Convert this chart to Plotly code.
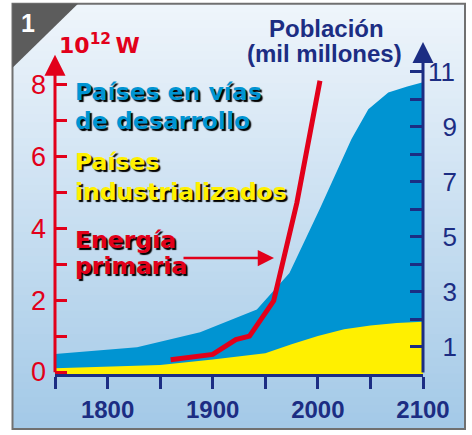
import plotly.graph_objects as go

# population in billions (right axis)
pop_years = [1750, 1828, 1888, 1942, 1973, 2002, 2032, 2048, 2067, 2085, 2100]
pop_world = [0.73, 0.97, 1.52, 2.35, 3.68, 6.03, 8.56, 9.64, 10.25, 10.47, 10.62]
ind_years = [1750, 1850, 1900, 1950, 1975, 2000, 2025, 2050, 2075, 2100]
pop_industrial = [0.21, 0.33, 0.53, 0.76, 1.08, 1.38, 1.63, 1.77, 1.86, 1.9]

# primary energy, 10^12 W (left axis)
energy_years = [1860, 1900, 1922, 1935, 1958, 1980, 2002]
energy = [0.34, 0.49, 0.9, 1.0, 1.98, 4.7, 8.1]

x_ticks = [1800, 1900, 2000, 2100]
x_minor = [1750, 1850, 1950, 2050]
energy_ticks = [0, 2, 4, 6, 8]
energy_minor = [1, 3, 5, 7]
pop_ticks = [1, 3, 5, 7, 9, 11]
pop_minor = [2, 4, 6, 8, 10]

NAVY = "#1c2d83"
RED = "#e2001a"
BLUE = "#0094d2"
YELLOW = "#fff000"
W, H = 472, 435
L, T, PW, PH = 55, 42, 368, 335


def px(x):
    return (x - L) / PW


def py(y):
    return (T + PH - y) / PH


fig = go.Figure()
fig.add_trace(go.Scatter(x=pop_years, y=pop_world, mode="lines", fill="tozeroy",
                         fillcolor=BLUE, line=dict(width=0, color=BLUE), yaxis="y"))
fig.add_trace(go.Scatter(x=ind_years, y=pop_industrial, mode="lines", fill="tozeroy",
                         fillcolor=YELLOW, line=dict(width=0, color=YELLOW), yaxis="y"))
fig.add_trace(go.Scatter(x=energy_years, y=energy, mode="lines",
                         line=dict(width=5, color=RED), yaxis="y2"))

# background gradient + frame
shapes = []
top_c, bot_c = (239, 245, 251), (163, 201, 231)
y0, y1 = 4, 432
n = 54
step = (y1 - y0) / n
for i in range(n):
    f = (i + 0.5) / n
    c = tuple(round(top_c[k] + (bot_c[k] - top_c[k]) * f) for k in range(3))
    shapes.append(dict(type="rect", xref="paper", yref="paper", layer="below",
                       x0=px(13), x1=px(465), y0=py(y0 + i * step), y1=py(y0 + (i + 1) * step + 1),
                       fillcolor="rgb(%d,%d,%d)" % c, line=dict(width=0)))
shapes.append(dict(type="rect", xref="paper", yref="paper", layer="below",
                   x0=px(12.5), x1=px(465), y0=py(3.5), y1=py(432.5),
                   line=dict(color="#707070", width=2)))
shapes.append(dict(type="path", xref="paper", yref="paper", layer="below",
                   path="M %f,%f L %f,%f L %f,%f Z" % (px(12.5), py(3.5), px(78), py(3.5), px(12.5), py(68)),
                   fillcolor="#5c5c5c", line=dict(width=0)))

big = dict(family="DejaVu Sans", size=23.5, weight="bold", shadow="2px 2px 1px #000")
ann = []


def label(text, x, yc, color):
    ann.append(dict(text=text, xref="paper", yref="paper", x=px(x), y=py(yc),
                    xanchor="left", yanchor="middle", showarrow=False,
                    font=dict(big, color=color)))


label("Países en vías", 73, 92.5, BLUE)
label("de desarrollo", 73, 122, BLUE)
label("Países", 73, 163.5, YELLOW)
label("industrializados", 73, 193.5, YELLOW)
label("Energía", 73, 242, RED)
label("primaria", 73, 268, RED)

title_font = dict(family="Liberation Sans", size=24, weight="bold", color=NAVY)
ann.append(dict(text="Población", xref="paper", yref="paper", x=px(326.5), y=py(28.3),
                xanchor="center", yanchor="middle", showarrow=False, font=title_font))
ann.append(dict(text="(mil millones)", xref="paper", yref="paper", x=px(324), y=py(53.6),
                xanchor="center", yanchor="middle", showarrow=False, font=title_font))
ann.append(dict(text="10<sup>12</sup>\u2009W", xref="paper", yref="paper", x=px(57), y=py(60),
                xanchor="left", yanchor="bottom", showarrow=False,
                font=dict(family="DejaVu Sans", size=22, weight="bold", color=RED)))
ann.append(dict(text="1", xref="paper", yref="paper", x=px(27.5), y=py(22.5),
                xanchor="center", yanchor="middle", showarrow=False,
                font=dict(family="Liberation Sans", size=25, weight="bold", color="white")))

# pointer arrow from "primaria" to the energy curve
ann.append(dict(text="", xref="paper", yref="paper", x=px(274), y=py(260),
                ax=-92, ay=0, showarrow=True, arrowhead=2, arrowsize=1.3,
                arrowwidth=2.5, arrowcolor=RED, standoff=0))

# axis arrows
ann.append(dict(text="", xref="x", yref="y2", x=1750, y=8.82, axref="x", ayref="y2",
                ax=1750, ay=-0.05, showarrow=True, arrowhead=2, arrowsize=1.4,
                arrowwidth=3, arrowcolor=RED, standoff=0))
ann.append(dict(text="", xref="x", yref="y", x=2100, y=12.09, axref="x", ayref="y",
                ax=2100, ay=0, showarrow=True, arrowhead=2, arrowsize=1.4,
                arrowwidth=3, arrowcolor=NAVY, standoff=0))

fig.update_layout(
    width=W, height=H,
    margin=dict(l=L, r=W - L - PW, t=T, b=H - T - PH),
    paper_bgcolor="white", plot_bgcolor="rgba(0,0,0,0)",
    showlegend=False, shapes=shapes, annotations=ann,
    xaxis=dict(range=[1750, 2100], tickvals=x_ticks, ticktext=[str(v) for v in x_ticks],
               ticks="outside", ticklen=12, tickwidth=2.5, tickcolor=NAVY,
               showline=True, linecolor=NAVY, linewidth=3, showgrid=False, zeroline=False,
               tickfont=dict(family="Liberation Sans", size=24, weight="bold", color=NAVY),
               minor=dict(tickmode="array", tickvals=x_minor, ticks="outside",
                          ticklen=12, tickwidth=2.5, tickcolor=NAVY)),
    yaxis=dict(side="right", range=[0, 12.09], tickvals=pop_ticks,
               ticktext=["\u2007" + str(v) if v < 10 else str(v) for v in pop_ticks],
               ticks="inside", ticklen=13, tickwidth=2.5, tickcolor=NAVY,
               showline=False, showgrid=False, zeroline=False, ticklabelstandoff=4,
               tickfont=dict(family="Liberation Sans", size=26, color=NAVY),
               minor=dict(tickmode="array", tickvals=pop_minor, ticks="inside",
                          ticklen=13, tickwidth=2.5, tickcolor=NAVY)),
    yaxis2=dict(overlaying="y", side="left", range=[-0.055, 9.178], tickvals=energy_ticks,
                ticks="inside", ticklen=12, tickwidth=2.5, tickcolor=RED,
                showline=False, showgrid=False, zeroline=False, ticklabelstandoff=8,
                tickfont=dict(family="Liberation Sans", size=27, color=RED),
                minor=dict(tickmode="array", tickvals=energy_minor, ticks="inside",
                           ticklen=12, tickwidth=2.5, tickcolor=RED)),
)

fig.write_html("out.html", config={"displayModeBar": False},
               post_script="document.body.style.margin='0px';")
